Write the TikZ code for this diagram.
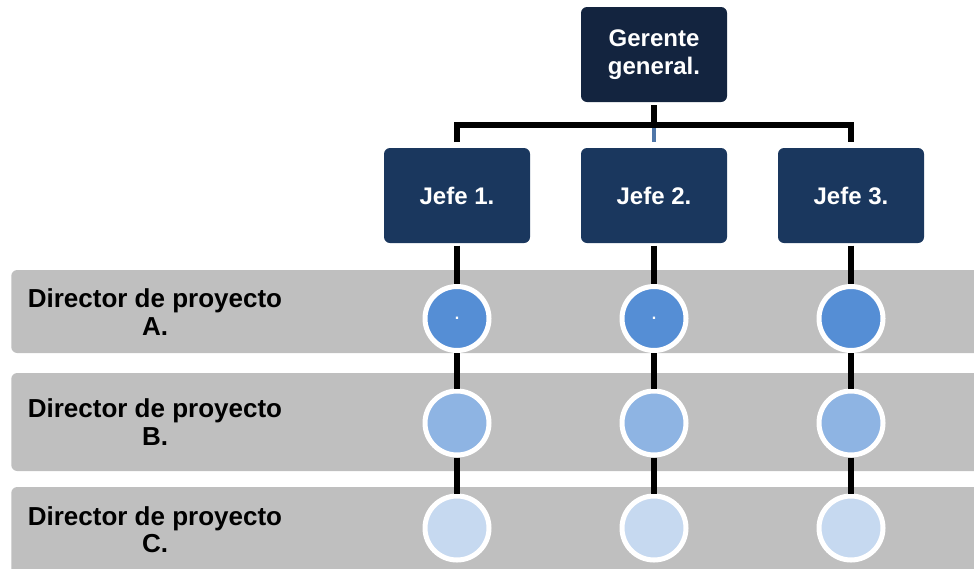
\documentclass[tikz,border=0pt]{standalone}
\usepackage{fontspec}
\setmainfont{Liberation Sans}
\usepackage{xcolor}
\usetikzlibrary{positioning}

\definecolor{gerfill}{RGB}{19,36,63}
\definecolor{jefefill}{RGB}{26,55,94}
\definecolor{stubblue}{RGB}{79,118,168}
\definecolor{bandgray}{RGB}{191,191,191}
\definecolor{dotA}{RGB}{85,142,213}
\definecolor{dotB}{RGB}{142,180,227}
\definecolor{dotC}{RGB}{198,217,240}

\begin{document}
\begin{tikzpicture}[
  x=0.75pt, y=-0.75pt,
  box/.style={rounded corners=4.5pt, minimum width=109.5pt, minimum height=71.25pt,
              outer sep=0pt, text=white, align=center,
              font=\fontsize{18}{21}\selectfont\bfseries},
  topbox/.style={box, fill=gerfill},
  jefebox/.style={box, fill=jefefill},
  band/.style={fill=bandgray, rounded corners=4.5pt, anchor=west,
               minimum width=742pt, inner sep=0pt},
  rowlabel/.style={align=center, font=\fontsize{19.5}{20.5}\selectfont\bfseries},
  dot/.style={circle, draw=white, line width=3.75pt, minimum size=48pt, inner sep=0pt,
              text=white, font=\fontsize{12}{12}\selectfont\bfseries},
  conn/.style={draw=black, line width=4pt, line join=miter},
  stub/.style={draw=stubblue, line width=3pt}
]
  \useasboundingbox (0,0) rectangle (974,568);
  \clip (0,0) rectangle (974,568);

  % grey rows
  \node[band, minimum height=62.25pt] (bandA) at (11,311.5) {};
  \node[band, minimum height=73.5pt]  (bandB) at (11,422) {};
  \node[band, minimum height=73.5pt]  (bandC) at (11,536) {};
  \node[rowlabel] (labA) at (155,312) {Director de proyecto\\A.};
  \node[rowlabel] (labB) at (155,422) {Director de proyecto\\B.};
  \node[rowlabel] (labC) at (155,530) {Director de proyecto\\C.};

  % boxes
  \node[topbox] (ger) at (654,54.5) {Gerente\\general.};
  \node[jefebox, below=34.5pt of ger] (j2) {Jefe 2.};
  \node[jefebox, left=38.25pt of j2]  (j1) {Jefe 1.};
  \node[jefebox, right=38.25pt of j2] (j3) {Jefe 3.};

  % tree lines
  \coordinate (bar) at (654,125);
  \draw[stub, shorten >=4.5pt] (bar) -- (j2.north);
  \draw[conn, shorten <=2.5pt] (ger.south) -- (ger.south |- bar);
  \draw[conn, shorten <=4.5pt, shorten >=4.5pt] (j1.north) |- (bar) -| (j3.north);

  % circles per row
  \coordinate (rowA) at (0,318.5);
  \coordinate (rowB) at (0,423);
  \coordinate (rowC) at (0,528);
  \foreach \j/\t in {1/.,2/.,3/} {
    \node[dot, fill=dotA] (a\j) at (j\j |- rowA) {\t};
    \node[dot, fill=dotB] (b\j) at (j\j |- rowB) {};
    \node[dot, fill=dotC] (c\j) at (j\j |- rowC) {};
    \draw[conn, shorten <=2pt] (j\j.south) -- (a\j.north);
    \draw[conn] (a\j.south) -- (b\j.north);
    \draw[conn] (b\j.south) -- (c\j.north);
  }
\end{tikzpicture}
\end{document}
